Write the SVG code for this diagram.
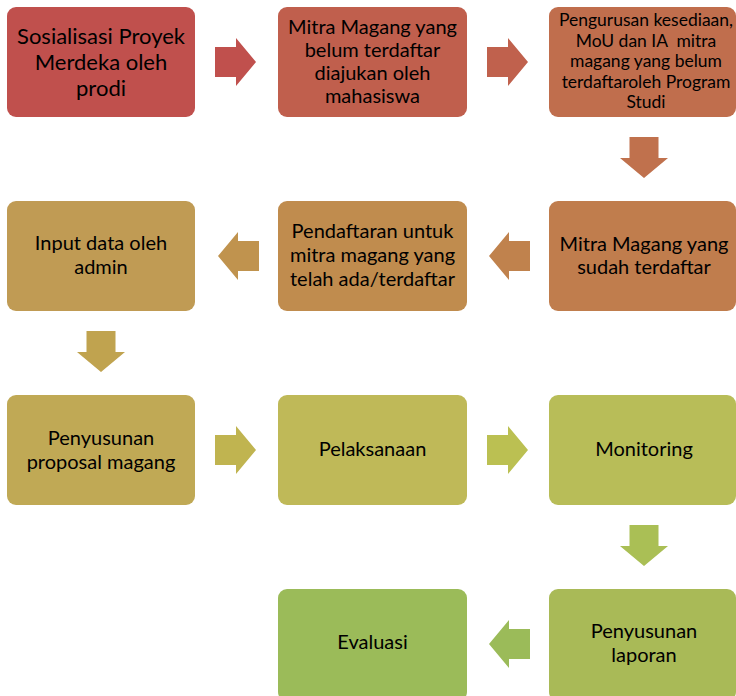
<svg xmlns="http://www.w3.org/2000/svg" width="736" height="696" viewBox="0 0 736 696">
<style>
  text { font-family: Lato, "Noto Sans", "DejaVu Sans", sans-serif; fill: #000; text-anchor: middle; }
  .f19 { font-size: 20px; }
  .f21 { font-size: 22px; }
  .f16 { font-size: 17.5px; }
</style>
<defs>
  <path id="arrR" d="M0,-15 H21 V-24 L41,0 L21,24 V15 H0 Z"/>
  <path id="arrL" d="M0,-15 H-21 V-24 L-41,0 L-21,24 V15 H0 Z"/>
  <path id="arrD" d="M-14.5,0 V21 H-24 L0,41 L24,21 H14.5 V0 Z"/>
</defs>
<rect width="736" height="696" fill="#fff"/>

<g id="connectors">
  <use href="#arrR" x="215" y="62" fill="#C0504D"/>
  <use href="#arrR" x="487" y="62" fill="#C0614D"/>
  <use href="#arrD" x="644" y="137" fill="#C0714D"/>
  <use href="#arrL" x="530" y="256" fill="#C0824D"/>
  <use href="#arrL" x="259" y="256" fill="#C0934E"/>
  <use href="#arrD" x="101" y="331" fill="#C0A34F"/>
  <use href="#arrR" x="215" y="450" fill="#C0B450"/>
  <use href="#arrR" x="487" y="450" fill="#BBC052"/>
  <use href="#arrD" x="644" y="525" fill="#AABF55"/>
  <use href="#arrL" x="530" y="644" fill="#9BBB59"/>
</g>

<g id="n1">
  <rect x="7" y="7" width="188" height="110" rx="9" fill="#C0504D"/>
  <text class="f21" x="101" y="44">Sosialisasi Proyek</text>
  <text class="f21" x="101" y="70">Merdeka oleh</text>
  <text class="f21" x="101" y="96">prodi</text>
</g>
<g id="n2">
  <rect x="278" y="7" width="189" height="110" rx="9" fill="#C05F4D"/>
  <text class="f19" x="372.5" y="34">Mitra Magang yang</text>
  <text class="f19" x="372.5" y="57">belum terdaftar</text>
  <text class="f19" x="372.5" y="80">diajukan oleh</text>
  <text class="f19" x="372.5" y="103">mahasiswa</text>
</g>
<g id="n3">
  <rect x="549" y="7" width="187" height="110" rx="9" fill="#C06E4D"/>
  <text class="f16" x="646" y="26">Pengurusan kesediaan,</text>
  <text class="f16" x="646" y="47" xml:space="preserve">MoU dan IA  mitra</text>
  <text class="f16" x="646" y="67">magang yang belum</text>
  <text class="f16" x="646" y="88">terdaftaroleh Program</text>
  <text class="f16" x="646" y="108">Studi</text>
</g>
<g id="n4">
  <rect x="549" y="201" width="187" height="110" rx="9" fill="#C07D4D"/>
  <text class="f19" x="644" y="251">Mitra Magang yang</text>
  <text class="f19" x="644" y="274">sudah terdaftar</text>
</g>
<g id="n5">
  <rect x="278" y="201" width="189" height="110" rx="9" fill="#C08C4E"/>
  <text class="f19" x="372.5" y="238">Pendaftaran untuk</text>
  <text class="f19" x="372.5" y="262">mitra magang yang</text>
  <text class="f19" x="372.5" y="286">telah ada/terdaftar</text>
</g>
<g id="n6">
  <rect x="7" y="201" width="188" height="110" rx="9" fill="#C09B54"/>
  <text class="f19" x="101" y="250">Input data oleh</text>
  <text class="f19" x="101" y="274">admin</text>
</g>
<g id="n7">
  <rect x="7" y="395" width="188" height="110" rx="9" fill="#C0A955"/>
  <text class="f19" x="101" y="445">Penyusunan</text>
  <text class="f19" x="101" y="469">proposal magang</text>
</g>
<g id="n8">
  <rect x="278" y="395" width="189" height="110" rx="9" fill="#BFB958"/>
  <text class="f19" x="372.5" y="456">Pelaksanaan</text>
</g>
<g id="n9">
  <rect x="549" y="395" width="187" height="110" rx="9" fill="#B8BD58"/>
  <text class="f19" x="644" y="456">Monitoring</text>
</g>
<g id="n10">
  <rect x="549" y="589" width="187" height="112" rx="9" fill="#A9BA57"/>
  <text class="f19" x="644" y="638">Penyusunan</text>
  <text class="f19" x="644" y="662">laporan</text>
</g>
<g id="n11">
  <rect x="278" y="589" width="189" height="112" rx="9" fill="#9BBB59"/>
  <text class="f19" x="372.5" y="649">Evaluasi</text>
</g>
</svg>
